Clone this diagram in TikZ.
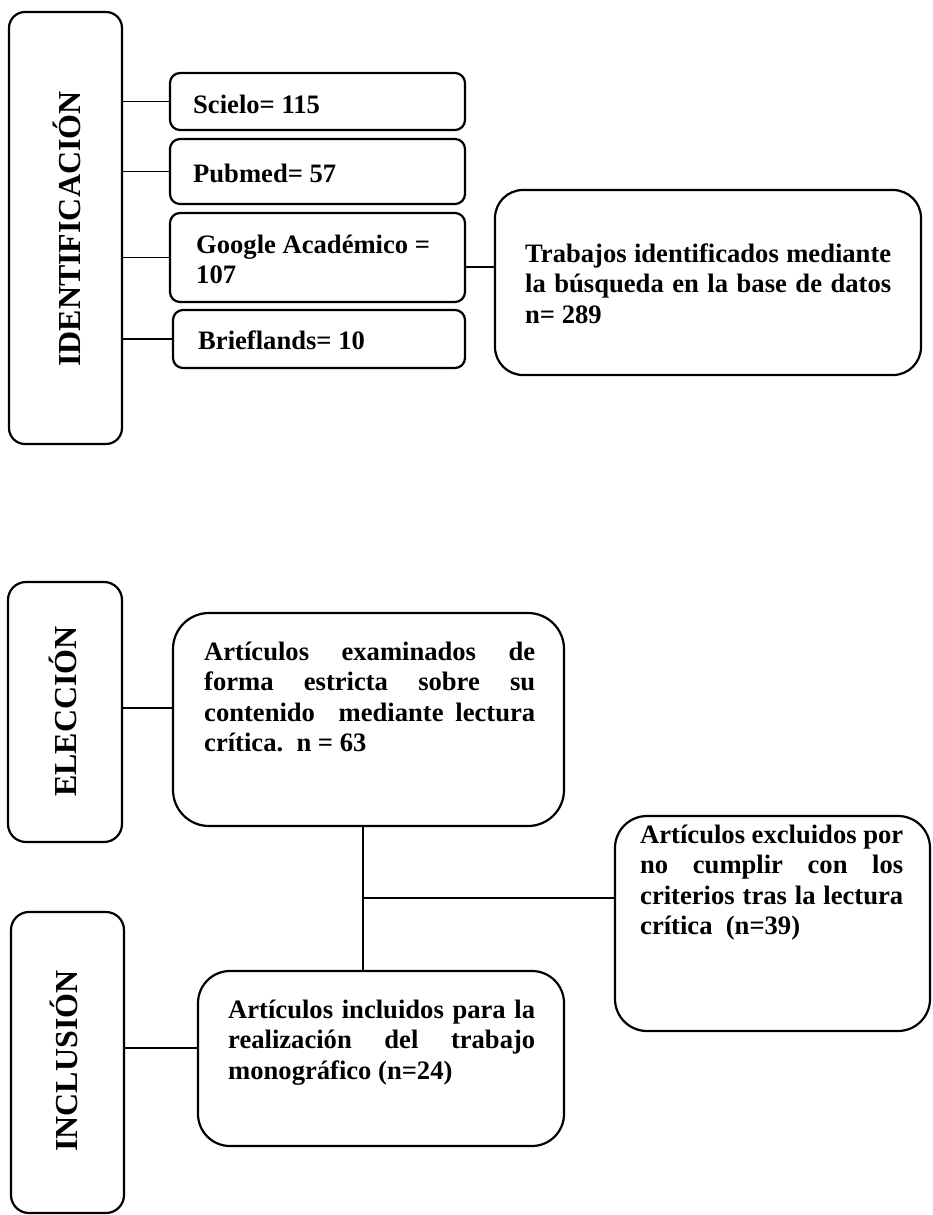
\documentclass[tikz,border=0pt]{standalone}
\usepackage{fontspec}
\setmainfont{Liberation Serif}
\newcommand{\jline}[1]{\makebox[\linewidth][s]{#1}}
\begin{document}
\begin{tikzpicture}[x=1pt,y=-1pt,
  box/.style={draw, line width=2.2pt, rounded corners=#1, inner sep=0pt},
  box/.default=10pt,
  conn/.style={draw, line width=1.3pt},
  txt/.style={inner sep=0pt, anchor=base west, font=\bfseries\fontsize{26.6}{30.6}\selectfont},
  lbl/.style={inner sep=0pt, anchor=base west, rotate=90, font=\bfseries\fontsize{32}{36}\selectfont}
]
\useasboundingbox (0,0) rectangle (932,1215);

% ---------- IDENTIFICACION ----------
\node[box=16pt, minimum width=113pt, minimum height=432pt] (idbox) at (65.5,228) {};
\node[lbl] (idlbl) at (80,367) {IDENTIFICACIÓN};

\node[box, minimum width=295pt, minimum height=57pt] (scielo) at (317.5,101.5) {};
\node[txt] (scielot) at (193,113) {Scielo= 115};

\node[box, minimum width=295pt, minimum height=65pt] (pubmed) at (317.5,171.5) {};
\node[txt] (pubmedt) at (193,182) {Pubmed= 57};

\node[box, minimum width=295pt, minimum height=89pt] (google) at (317.5,257.5) {};
\node[txt] (googlet) at (196,253) {\parbox[t]{260pt}{Google Académico =\\107}};

\node[box, minimum width=292pt, minimum height=58pt] (brief) at (319,339) {};
\node[txt] (brieft) at (198,349) {Brieflands= 10};

\node[box=28pt, minimum width=426pt, minimum height=185pt] (trab) at (708,282.5) {};
\node[txt] (trabt) at (525,262) {\parbox[t]{366pt}{\jline{Trabajos identificados mediante}\\
\jline{la búsqueda en la base de datos}\\n= 289}};

\draw[conn] (idbox.east |- scielo.west) -- (scielo.west);
\draw[conn] (idbox.east |- pubmed.west) -- (pubmed.west);
\draw[conn] (idbox.east |- google.west) -- (google.west);
\draw[conn] (idbox.east |- brief.west) -- (brief.west);
\coordinate (g2t) at ([yshift=-9.5pt]google.east);
\draw[conn] (g2t) -- (g2t -| trab.west);

% ---------- ELECCION ----------
\node[box=18pt, minimum width=114pt, minimum height=260pt] (elbox) at (65,712) {};
\node[lbl] (ellbl) at (76.7,797) {ELECCIÓN};

\node[box=36pt, minimum width=391pt, minimum height=213pt] (art) at (368.5,719.5) {};
\node[txt] (artt) at (204,660) {\parbox[t]{331pt}{\jline{Artículos examinados de}\\
\jline{forma estricta sobre su}\\
\jline{contenido\ \ mediante lectura}\\
crítica.\ \ n = 63}};

\coordinate (e2a) at ([yshift=4pt]elbox.east);
\draw[conn] (e2a) -- (e2a -| art.west);

% ---------- EXCLUIDOS ----------
\node[box=32pt, minimum width=315pt, minimum height=215pt] (excl) at (772.5,923.5) {};
\node[txt] (exclt) at (640,843) {\parbox[t]{263pt}{\jline{Artículos excluidos por}\\
\jline{no cumplir con los}\\
\jline{criterios tras la lectura}\\
crítica\ \ (n=39)}};

% ---------- INCLUSION ----------
\node[box=18pt, minimum width=113pt, minimum height=301pt] (inbox) at (67.5,1062.5) {};
\node[lbl] (inlbl) at (77,1152) {INCLUSIÓN};

\node[box=32pt, minimum width=366pt, minimum height=175pt] (incl) at (381,1058.5) {};
\node[txt] (inclt) at (228,1018) {\parbox[t]{307pt}{\jline{Artículos incluidos para la}\\
\jline{realización del trabajo}\\
monográfico (n=24)}};

\coordinate (i2i) at ([yshift=14.5pt]inbox.east);
\draw[conn] (i2i) -- (i2i -| incl.west);

% ---------- flow connectors ----------
\coordinate (vtop) at ([xshift=-5.5pt]art.south);
\draw[conn] (vtop) -- (vtop |- incl.north);
\coordinate (junc) at ([yshift=-71pt]vtop);
\draw[conn] (junc) -- (junc -| excl.west);
\end{tikzpicture}
\end{document}
